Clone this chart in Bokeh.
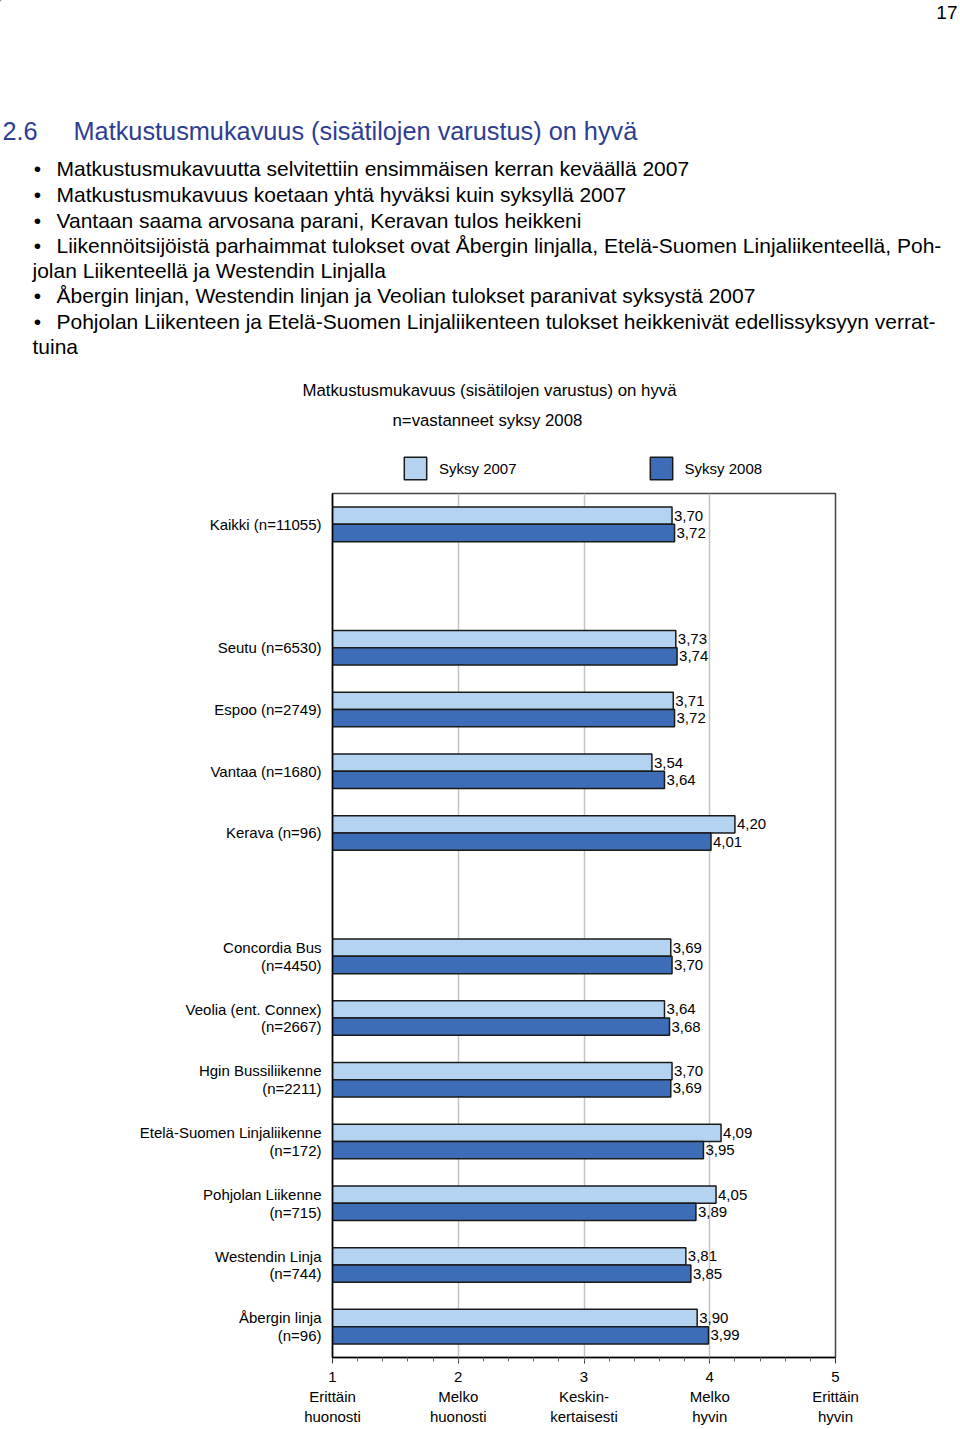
from bokeh.plotting import figure
from bokeh.models import (ColumnDataSource, Range1d, FactorRange, FixedTicker,
                          LabelSet, Legend, LegendItem)
from bokeh.transform import dodge
from bokeh.embed import file_html
from bokeh.resources import INLINE
from bokeh.core.properties import value

FONT = "Liberation Sans"
LIGHT = "#B4D3F0"
DARK = "#3E6DB8"
TITLE_BLUE = "#2E3E92"

# ---------------- data ----------------
page_number = "17"
section_no = "2.6"
section_title = "Matkustusmukavuus (sisätilojen varustus) on hyvä"
bullet_texts = [
    "Matkustusmukavuutta selvitettiin ensimmäisen kerran keväällä 2007",
    "Matkustusmukavuus koetaan yhtä hyväksi kuin syksyllä 2007",
    "Vantaan saama arvosana parani, Keravan tulos heikkeni",
    "Liikennöitsijöistä parhaimmat tulokset ovat Åbergin linjalla, Etelä-Suomen Linjaliikenteellä, Poh-",
    "Åbergin linjan, Westendin linjan ja Veolian tulokset paranivat syksystä 2007",
    "Pohjolan Liikenteen ja Etelä-Suomen Linjaliikenteen tulokset heikkenivät edellissyksyyn verrat-",
]
continuation_texts = [
    "jolan Liikenteellä ja Westendin Linjalla",
    "tuina",
]
chart_title = "Matkustusmukavuus  (sisätilojen varustus) on hyvä"
chart_subtitle = "n=vastanneet syksy 2008"
series_names = ["Syksy 2007", "Syksy 2008"]

categories = [
    "Kaikki (n=11055)",
    "Seutu (n=6530)",
    "Espoo (n=2749)",
    "Vantaa (n=1680)",
    "Kerava (n=96)",
    "Concordia Bus\n(n=4450)",
    "Veolia (ent. Connex)\n(n=2667)",
    "Hgin Bussiliikenne\n(n=2211)",
    "Etelä-Suomen Linjaliikenne\n(n=172)",
    "Pohjolan Liikenne\n(n=715)",
    "Westendin Linja\n(n=744)",
    "Åbergin linja\n(n=96)",
]
autumn_2007 = [3.70, 3.73, 3.71, 3.54, 4.20, 3.69, 3.64, 3.70, 4.09, 4.05, 3.81, 3.90]
autumn_2008 = [3.72, 3.74, 3.72, 3.64, 4.01, 3.70, 3.68, 3.69, 3.95, 3.89, 3.85, 3.99]

# slot order top->bottom, with two empty (blank) gap rows
slots = [categories[0], " "] + categories[1:5] + ["  "] + categories[5:]

x_ticks = [1, 2, 3, 4, 5]
x_tick_labels = ["1\nErittäin\nhuonosti", "2\nMelko\nhuonosti", "3\nKeskin-\nkertaisesti",
                 "4\nMelko\nhyvin", "5\nErittäin\nhyvin"]

# ---------------- header figure ----------------
W = 960
H_TOTAL = 1429
H_HEAD = 485
head = figure(width=W, height=H_HEAD, x_range=Range1d(0, W), y_range=Range1d(H_HEAD, 0),
              output_backend="svg", toolbar_location=None,
              min_border_left=0, min_border_right=0, min_border_top=0, min_border_bottom=0,
              x_axis_location=None, y_axis_location=None)
head.outline_line_color = None
head.grid.visible = False

head.text(x=[957], y=[12], text=[page_number], text_font=value(FONT), text_font_size="19px",
          text_align="right", text_baseline="middle", text_color="black")
head.text(x=[2, 73], y=[130, 130], text=[section_no, section_title],
          text_font=value(FONT), text_font_size="25.3px", text_baseline="middle",
          text_color=TITLE_BLUE)

bullet_y = [168, 194, 220, 245, 295, 321]
cont_y = [270, 346]
head.text(x=[37] * len(bullet_y), y=bullet_y, text=["•"] * len(bullet_y),
          text_font=value(FONT), text_font_size="21px", text_align="center",
          text_baseline="middle", text_color="black")
head.text(x=[56] * len(bullet_y), y=bullet_y, text=bullet_texts,
          text_font=value(FONT), text_font_size="21px", text_baseline="middle", text_color="black")
head.text(x=[32] * len(cont_y), y=cont_y, text=continuation_texts,
          text_font=value(FONT), text_font_size="21px", text_baseline="middle", text_color="black")

head.text(x=[302], y=[390], text=[chart_title], text_font=value(FONT),
          text_font_size="16.8px", text_baseline="middle", text_color="black")
head.text(x=[392], y=[420], text=[chart_subtitle], text_font=value(FONT),
          text_font_size="16.8px", text_baseline="middle", text_color="black")

# legend swatch carriers (kept outside the visible header range)
r_l = head.hbar(y=[-100], left=[-100], right=[-90], height=1, fill_color=LIGHT,
                line_color="#1a1a1a", line_width=1.5)
r_d = head.hbar(y=[-100], left=[-100], right=[-90], height=1, fill_color=DARK,
                line_color="#1a1a1a", line_width=1.5)
legend = Legend(items=[LegendItem(label=series_names[0], renderers=[r_l]),
                       LegendItem(label=series_names[1], renderers=[r_d])],
                orientation="horizontal", location=(401, 3), glyph_width=28, glyph_height=28,
                label_standoff=10, spacing=130, padding=0, margin=0,
                border_line_color=None, background_fill_color=None,
                label_text_font=FONT, label_text_font_size="15px", label_text_color="black")
head.add_layout(legend)

# ---------------- chart figure ----------------
H_CHART = H_TOTAL - H_HEAD
p = figure(width=W, height=H_CHART, x_range=Range1d(1, 5),
           y_range=FactorRange(factors=slots[::-1]),
           output_backend="svg", toolbar_location=None,
           min_border_left=332, min_border_right=125, min_border_top=8, min_border_bottom=72)

src = ColumnDataSource(dict(
    cat=categories, v07=autumn_2007, v08=autumn_2008,
    t07=[f"{v:.2f}".replace(".", ",") for v in autumn_2007],
    t08=[f"{v:.2f}".replace(".", ",") for v in autumn_2008],
))

OFF = 0.14
p.hbar(y=dodge("cat", OFF, range=p.y_range), left=1, right="v07", height=0.28,
       fill_color=LIGHT, line_color="#1a1a1a", line_width=1.5, source=src)
p.hbar(y=dodge("cat", -OFF, range=p.y_range), left=1, right="v08", height=0.28,
       fill_color=DARK, line_color="#1a1a1a", line_width=1.5, source=src)

for col, txt, off in (("v07", "t07", OFF), ("v08", "t08", -OFF)):
    p.add_layout(LabelSet(x=col, y=dodge("cat", off, range=p.y_range), text=txt, source=src,
                          x_offset=2, text_align="left", text_baseline="middle",
                          text_font=value(FONT), text_font_size="15px", text_color="black"))

p.outline_line_color = "#444444"
p.outline_line_width = 1.5
p.ygrid.visible = False
p.xgrid.ticker = FixedTicker(ticks=[2, 3, 4])
p.xgrid.grid_line_color = "#C4C4C4"
p.xgrid.grid_line_width = 1.5

yax = p.yaxis[0]
yax.axis_line_color = "black"
yax.axis_line_width = 1.5
yax.major_tick_line_color = None
yax.minor_tick_line_color = None
yax.major_label_standoff = 5
yax.major_label_text_font = FONT
yax.major_label_text_font_size = "15px"
yax.major_label_text_color = "black"
yax.major_label_text_line_height = 1.05

ax = p.xaxis[0]
ax.ticker = FixedTicker(ticks=x_ticks, minor_ticks=[1 + 0.2 * i for i in range(1, 20)])
ax.major_label_overrides = dict(zip(x_ticks, x_tick_labels))
ax.axis_line_color = "black"
ax.axis_line_width = 1.5
ax.major_tick_in = 0
ax.major_tick_out = 6
ax.minor_tick_in = 0
ax.minor_tick_out = 4
ax.major_tick_line_color = "#333333"
ax.minor_tick_line_color = "#666666"
ax.major_label_standoff = 4
ax.major_label_text_font = FONT
ax.major_label_text_font_size = "15px"
ax.major_label_text_color = "black"

open("out.html", "w").write(file_html([head, p], INLINE))
